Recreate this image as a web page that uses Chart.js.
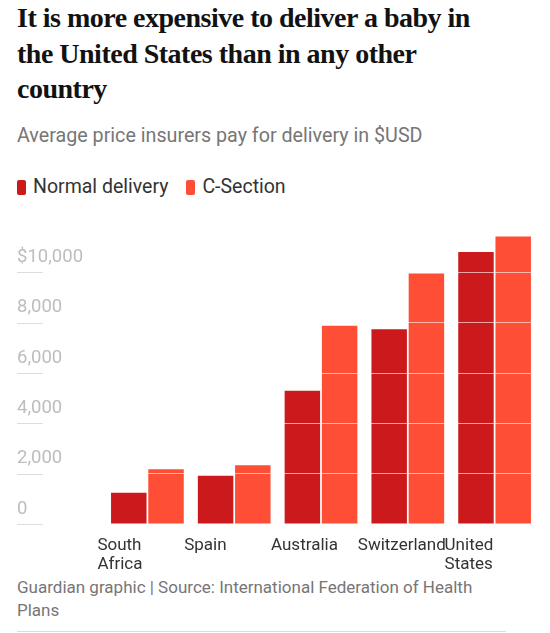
<!DOCTYPE html>
<html>
<head>
<meta charset="utf-8">
<script src="https://cdn.jsdelivr.net/npm/chart.js@4/dist/chart.umd.min.js"></script>
<style>
  body { margin: 0; background: #fff; width: 550px; height: 633px; position: relative; overflow: hidden; }
  .title { position: absolute; left: 17px; top: 0; margin: 0; font-family: "Liberation Serif", serif; font-weight: bold;
           font-size: 28px; line-height: 35.5px; letter-spacing: -0.5px; color: #121212; }
  .subtitle { position: absolute; left: 17px; top: 124px; font-family: Roboto, sans-serif; font-size: 19.7px; line-height: 24px; color: #767676; }
  .legend { position: absolute; left: 17px; top: 175px; font-family: Roboto, sans-serif; font-size: 19.5px; line-height: 24px; color: #333; display: flex; }
  .legend span.item { display: flex; align-items: center; margin-right: 18px; }
  .legend span.box { display: inline-block; width: 9px; height: 15px; border-radius: 2px; margin-right: 7px; }
  #wrap { position: absolute; left: 0; top: 215px; width: 550px; height: 359px; }
  .footer { position: absolute; left: 17px; top: 576px; font-family: Roboto, sans-serif; font-size: 17px; line-height: 23px; color: #767676; }
  .rule { position: absolute; left: 17px; top: 631px; width: 489px; height: 1px; background: #dcdcdc; }
</style>
</head>
<body>
<h1 class="title">It is more expensive to deliver a baby in<br>the United States than in any other<br>country</h1>
<div class="subtitle">Average price insurers pay for delivery in $USD</div>
<div class="legend" id="legend"></div>
<div id="wrap"><canvas id="chart"></canvas></div>
<div class="footer">Guardian graphic | Source: International Federation of Health<br>Plans</div>
<div class="rule"></div>
<script>
const countries = [['South', 'Africa'], 'Spain', 'Australia', 'Switzerland', ['United', 'States']];
const normalDelivery = [1240, 1920, 5290, 7740, 10810];
const cSection = [2180, 2330, 7880, 9950, 11420];
const seriesNames = ['Normal delivery', 'C-Section'];
const seriesColors = ['#cc1a1c', '#ff4e36'];
const yTicks = [0, 2000, 4000, 6000, 8000, 10000];

const legend = document.getElementById('legend');
seriesNames.forEach((name, i) => {
  const item = document.createElement('span');
  item.className = 'item';
  item.innerHTML = `<span class="box" style="background:${seriesColors[i]}"></span>${name}`;
  legend.appendChild(item);
});

// short grey stubs under the y labels
const tickStubs = {
  id: 'tickStubs',
  afterDraw(chart) {
    const y = chart.scales.y;
    const ctx = chart.ctx;
    ctx.save();
    ctx.strokeStyle = '#dddddd';
    ctx.lineWidth = 1;
    yTicks.forEach(v => {
      const py = Math.round(y.getPixelForValue(v)) + 0.5;
      ctx.beginPath();
      ctx.moveTo(y.left, py);
      ctx.lineTo(y.left + 26, py);
      ctx.stroke();
    });
    ctx.restore();
  }
};

new Chart(document.getElementById('chart'), {
  type: 'bar',
  data: {
    labels: countries,
    datasets: [
      { label: seriesNames[0], data: normalDelivery, backgroundColor: seriesColors[0] },
      { label: seriesNames[1], data: cSection, backgroundColor: seriesColors[1] }
    ]
  },
  options: {
    responsive: true,
    maintainAspectRatio: false,
    animation: false,
    layout: { padding: { left: 17, right: 12, top: 7, bottom: 0 } },
    datasets: { bar: { categoryPercentage: 0.858, barPercentage: 0.953 } },
    plugins: { legend: { display: false }, tooltip: { enabled: false } },
    scales: {
      x: {
        grid: { display: false, drawTicks: false },
        border: { display: false },
        ticks: {
          autoSkip: false, maxRotation: 0, align: 'start', labelOffset: -50, padding: 12,
          color: '#333', font: { family: 'Roboto', size: 17, lineHeight: 1.12 }
        },
        afterFit(scale) { scale.paddingLeft = 0; scale.paddingRight = 0; scale.height = 50; }
      },
      y: {
        min: 0, max: 12000,
        grid: { color: 'rgba(255,255,255,0.6)', drawTicks: false, z: 1 },
        border: { display: false },
        afterBuildTicks(scale) { scale.ticks = yTicks.map(v => ({ value: v })); },
        afterFit(scale) { scale.width = 87; scale.paddingTop = 0; scale.paddingBottom = 0; },
        ticks: {
          crossAlign: 'far', labelOffset: -15,
          color: '#bdbdbd', font: { family: 'Roboto', size: 18.5 },
          callback: v => (v === 10000 ? '$' : '') + v.toLocaleString('en-US')
        }
      }
    }
  },
  plugins: [tickStubs]
});
</script>
</body>
</html>
